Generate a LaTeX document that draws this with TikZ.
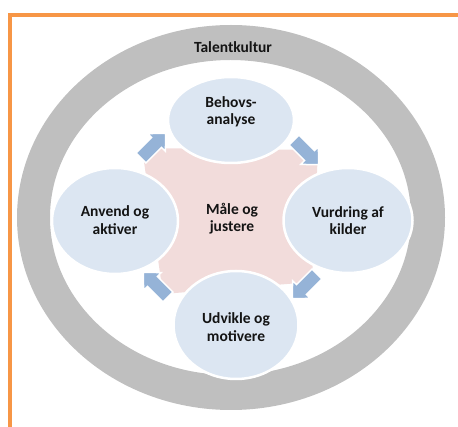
\documentclass[tikz,border=0pt]{standalone}
\usepackage{fontspec}
\setmainfont{Carlito}
\usetikzlibrary{calc}
\usetikzlibrary{shapes.geometric}
\usepackage{xcolor}

\definecolor{frameorange}{HTML}{F79646}
\definecolor{ringgray}{HTML}{BFBFBF}
\definecolor{cycblue}{HTML}{DCE6F2}
\definecolor{corepink}{HTML}{F2DCDB}
\definecolor{arrowblue}{HTML}{95B3D7}

\begin{document}
\begin{tikzpicture}[x=1pt,y=-1pt,
    cyc/.style={ellipse, fill=cycblue, draw=white, line width=2.5pt, inner sep=0pt},
    lbl/.style={font=\fontsize{15.5}{17.5}\selectfont\bfseries, align=center, text=black!92},
    blockarrow/.pic={
      \filldraw[fill=arrowblue, draw=white, line width=1.5pt, line join=miter]
        (0,-7) -- (22,-7) -- (22,-12.5) -- (35,0) -- (22,12.5) -- (22,7) -- (0,7) -- cycle;
    }]

      \useasboundingbox (0,0) rectangle (458,427);

      % Frame
      \draw[frameorange, line width=4pt] (10,427) -- (10,15) -- (458,15);

      % Ring
      \fill[ringgray, even odd rule]
        (231,217.5) ellipse [x radius=214, y radius=192.5]
        (230.5,217.5) ellipse [x radius=180.5, y radius=157.5];
      \node[lbl] (kultur) at (233,47) {Talentkultur};

      % Core
      \fill[corepink] (142,148) -- (318,150) -- (312,282) -- (163,294) -- cycle;
      \node[lbl] (maale) at (232,218.5) {Måle og\\justere};

      % Cycle
      \node[cyc, minimum width=126, minimum height=86]  (behov) at (231,120) {};
      \node[cyc, minimum width=129, minimum height=105] (vurd)  at (348,220.5) {};
      \node[cyc, minimum width=125, minimum height=108] (udv)   at (236,325) {};
      \node[cyc, minimum width=126, minimum height=106] (anv)   at (115,221) {};

      \node[lbl] at ($(behov)+(0,-8)$) {Behovs-\\analyse};
      \node[lbl] at ($(vurd)+(0,0)$)   {Vurdring af\\kilder};
      \node[lbl] at ($(udv)+(0,2)$)    {Udvikle og\\motivere};
      \node[lbl] at ($(anv)+(0,-1)$)   {Anvend og\\aktiver};

      % Arrows
      \foreach \x/\y/\a in {141/158/45, 294/140/-45, 317/274/-135, 168/297/135}
      {
        \coordinate (tail\a) at (\x,\y);
        \pic[rotate=\a] at (tail\a) {blockarrow};
      }

\end{tikzpicture}
\end{document}
